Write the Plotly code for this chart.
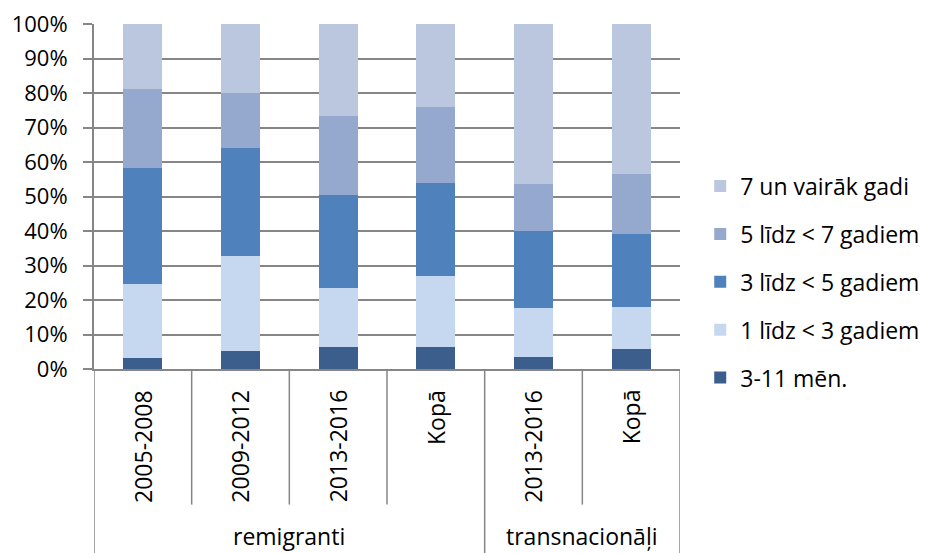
import plotly.graph_objects as go

categories = ["2005-2008", "2009-2012", "2013-2016", "Kopā", "2013-2016", "Kopā"]
groups = ["remigranti", "remigranti", "remigranti", "remigranti", "transnacionāļi", "transnacionāļi"]
group_names = ["remigranti", "transnacionāļi"]

series_names = ["3-11 mēn.", "1 līdz < 3 gadiem", "3 līdz < 5 gadiem", "5 līdz < 7 gadiem", "7 un vairāk gadi"]
v_3_11 = [3.2, 5.3, 6.5, 6.5, 3.5, 5.7]
v_1_3 = [21.5, 27.6, 17.0, 20.4, 14.3, 12.4]
v_3_5 = [33.7, 31.3, 26.8, 27.1, 22.3, 20.9]
v_5_7 = [22.8, 15.8, 23.0, 21.8, 13.5, 17.4]
v_7p = [18.8, 20.0, 26.7, 24.2, 46.4, 43.6]
series_values = [v_3_11, v_1_3, v_3_5, v_5_7, v_7p]
colors = ["#3B5E8D", "#C6D8F0", "#4F81BD", "#95A9CF", "#BAC7DF"]

ytick_vals = [0, 10, 20, 30, 40, 50, 60, 70, 80, 90, 100]
ytick_text = [f"{v}%" for v in ytick_vals]

FONT = "Open Sans"
GRID = "#868686"

xs = list(range(len(categories)))
fig = go.Figure()
for i, (name, vals, col) in enumerate(zip(series_names, series_values, colors)):
    fig.add_trace(go.Bar(
        x=xs, y=vals, name=name, marker=dict(color=col, line=dict(width=0)),
        width=0.4, legendgroup=f"g{i}", legendrank=len(series_names) - i,
    ))

# category labels (rotated) and group labels
annotations = []
for x, c in zip(xs, categories):
    annotations.append(dict(x=x, xref="x", y=-0.054, yref="paper", text=c,
                            textangle=-90, xanchor="center", yanchor="top",
                            showarrow=False, font=dict(family=FONT, size=23, color="#000")))
grp_pos = {}
for x, g in zip(xs, groups):
    grp_pos.setdefault(g, []).append(x)
for g in group_names:
    p = grp_pos[g]
    annotations.append(dict(x=(min(p) + max(p)) / 2, xref="x", y=-0.484, yref="paper", text=g,
                            xanchor="center", yanchor="middle", showarrow=False,
                            font=dict(family=FONT, size=23, color="#000")))

# separators
shapes = []
n = len(categories)
for b in range(n + 1):
    xb = b - 0.5
    left_g = groups[b - 1] if b > 0 else None
    right_g = groups[b] if b < n else None
    long = left_g != right_g
    shapes.append(dict(type="line", xref="x", yref="paper", x0=xb, x1=xb, y0=0,
                       y1=-0.54 if long else -0.393, line=dict(color=GRID, width=1.5)))

fig.update_layout(
    width=925, height=553,
    margin=dict(l=94, r=245, t=24, b=184, autoexpand=False),
    paper_bgcolor="white", plot_bgcolor="white",
    barmode="stack", barnorm="percent",
    font=dict(family=FONT, size=23, color="#000"),
    xaxis=dict(range=[-0.5, n - 0.5], showticklabels=False, showgrid=False, zeroline=False,
               showline=True, linecolor=GRID, linewidth=2, ticks=""),
    yaxis=dict(range=[0, 100], tickvals=ytick_vals, ticktext=ytick_text, showgrid=True,
               gridcolor=GRID, gridwidth=2, zeroline=False, showline=True, linecolor=GRID,
               linewidth=2, ticks="outside", ticklen=9, tickcolor=GRID, tickwidth=2,
               ticklabelstandoff=11, tickfont=dict(family=FONT, size=22, color="#000")),
    legend=dict(xref="container", yref="container", x=0.757, xanchor="left",
                y=0.49, yanchor="middle", traceorder="grouped",
                tracegroupgap=15, font=dict(family=FONT, size=23, color="#000"),
                bgcolor="rgba(0,0,0,0)"),
    annotations=annotations, shapes=shapes, showlegend=True,
)
fig.write_html("out.html", config={"displayModeBar": False},
               post_script="document.body.style.margin='0';")
